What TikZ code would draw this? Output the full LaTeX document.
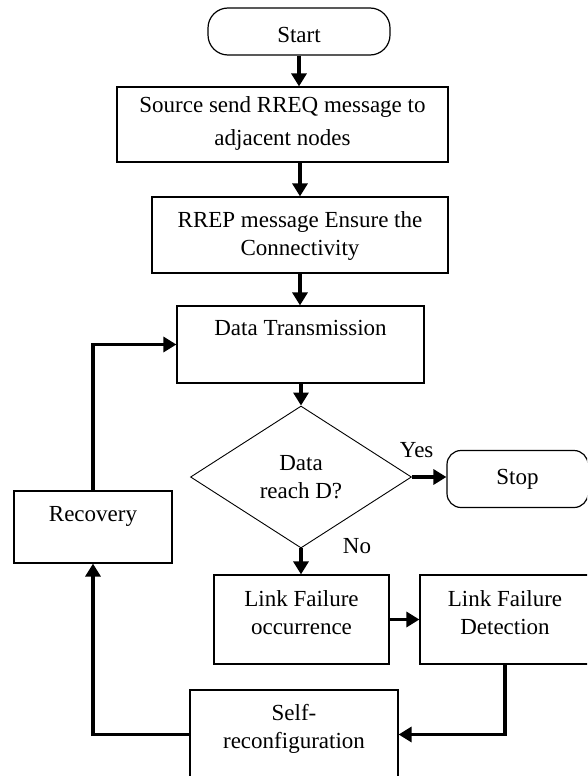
\documentclass[tikz,border=0pt]{standalone}
\usepackage{fontspec}
\setmainfont{Liberation Serif}
\usetikzlibrary{arrows.meta,shapes.geometric}

\begin{document}
\begin{tikzpicture}[x=1pt,y=-1pt,
  every node/.style={font=\fontsize{23}{27.5}\selectfont},
  proc/.style={draw,line width=1.2pt,align=center,inner sep=4pt},
  term/.style={draw,line width=1.2pt,rounded corners=20pt,inner sep=4pt},
  dec/.style={draw,diamond,line width=0.9pt,align=center,inner sep=0pt},
  halt/.style={draw,rounded corners=14pt,line width=1.2pt,inner sep=4pt},
  flow/.style={line width=3.2pt,-{Triangle[length=13pt,width=15pt]}}]
  % Frame
  \useasboundingbox (0,0) rectangle (587,776);
  \clip (0,0) rectangle (587,776);

  % Main column
  \node[term,minimum width=182pt,minimum height=47pt,text height=29pt,text depth=6pt]
    (start) at (299,31.5) {Start};
  \node[proc,minimum width=331pt,minimum height=75pt,text height=54pt,text depth=13pt]
    (src) at (282.5,124.5) {Source send RREQ message to\\[5.5pt]adjacent nodes};
  \node[proc,minimum width=296pt,minimum height=76pt,text height=54pt,text depth=14pt]
    (rrep) at (300,235) {RREP message Ensure the\\Connectivity};
  \node[proc,minimum width=247pt,minimum height=77pt,text height=25pt,text depth=44pt]
    (data) at (300.5,344.5) {Data Transmission};
  \node[dec,minimum width=221pt,minimum height=142pt]
    (reach) at (301,477) {Data\\reach D?};
  \node[halt,minimum width=141pt,minimum height=57pt] (stop) at (517.5,479) {Stop};

  % Failure loop
  \node[proc,minimum width=175pt,minimum height=89pt,text height=55pt,text depth=26pt]
    (lfo) at (301.5,619.5) {Link Failure\\occurrence};
  \node[proc,minimum width=170pt,minimum height=89pt,text height=55pt,text depth=26pt]
    (lfd) at (505,619.5) {Link Failure\\Detection};
  \node[proc,minimum width=208pt,minimum height=89pt,text height=54pt,text depth=27pt]
    (self) at (294,734.5) {Self-\\reconfiguration};
  \node[proc,minimum width=158pt,minimum height=72pt,text height=26.7pt,text depth=37.3pt]
    (recov) at (93,527) {Recovery};

  % Branch labels
  \node (yes) at (416.7,450) {Yes};
  \node (no) at (357,546) {No};

  % Arrows
  \draw[flow] (start.south) -- (start.south |- src.north);
  \draw[flow] (rrep.north |- src.south) -- (rrep.north);
  \draw[flow] (rrep.south) -- (rrep.south |- data.north);
  \draw[flow] (reach.north |- data.south) -- (reach.north);
  \draw[flow] (reach.east) -- (reach.east -| stop.west);
  \draw[flow] (reach.south) -- (reach.south |- lfo.north);
  \draw[flow] (lfo.east) -- (lfd.west);
  \draw[flow] (lfd.south) |- (self.east);
  \draw[flow] (self.west) -| (recov.south);
  \draw[flow] (recov.north) |- (data.west);
\end{tikzpicture}
\end{document}
